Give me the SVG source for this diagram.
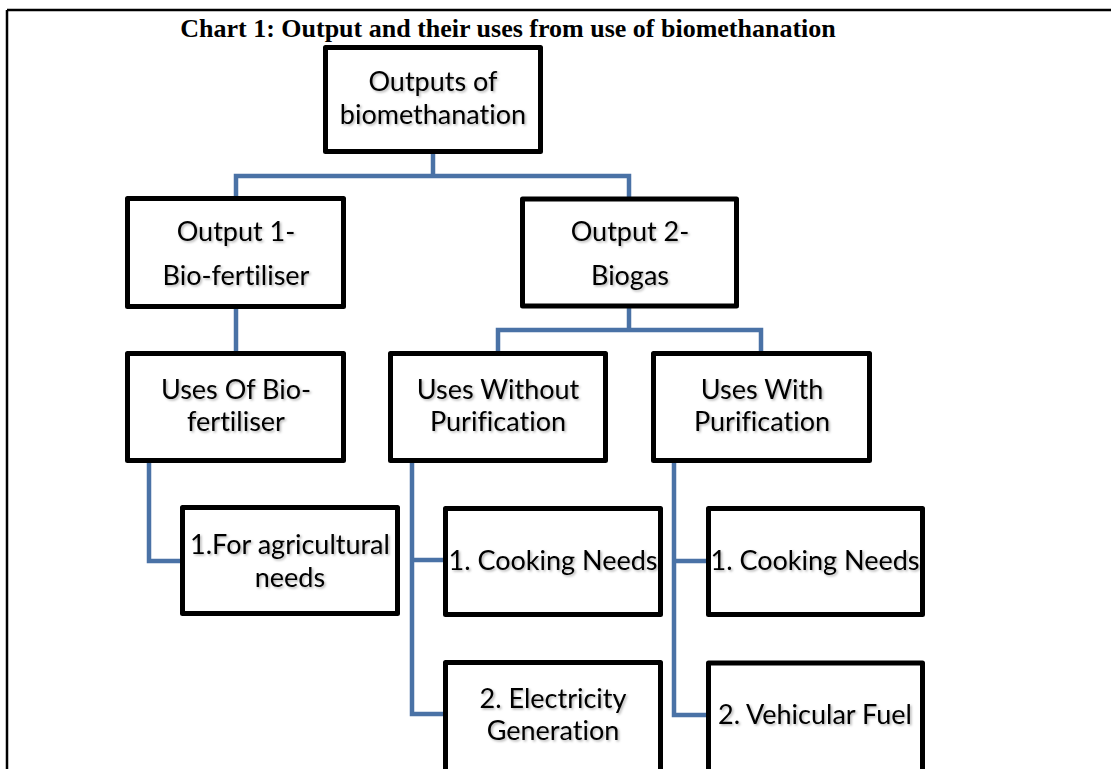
<svg xmlns="http://www.w3.org/2000/svg" width="1111" height="769" viewBox="0 0 1111 769">
<defs>
<style>
.box{fill:#fff;stroke:#000;stroke-width:5;stroke-linejoin:round}
.lbl{font-family:Lato,"Liberation Sans",sans-serif;font-size:27px;fill:#000;text-anchor:middle;filter:url(#sh);font-variant-ligatures:none;font-feature-settings:"liga" 0}
.conn{fill:none;stroke:#4A72A6;stroke-width:4.5}
.title{font-family:"Liberation Serif","Times New Roman",serif;font-weight:bold;font-size:26px;fill:#000;text-anchor:middle}
</style>
<filter id="sh" x="-10%" y="-30%" width="130%" height="170%">
<feDropShadow dx="1.5" dy="1.5" stdDeviation="0.8" flood-color="#000" flood-opacity="0.3"/>
</filter>
</defs>
<rect width="1111" height="769" fill="#fff"/>
<g id="frame" fill="none" stroke="#000" stroke-width="2.5">
<path d="M7,10 H1111 M7,10 V769"/>
</g>
<text class="title" x="508" y="37">Chart 1: Output and their uses from use of biomethanation</text>
<g id="connectors">
<path class="conn" d="M433,152 V176"/>
<path class="conn" d="M236,198 V176 H629 V198"/>
<path class="conn" d="M236,307 V353"/>
<path class="conn" d="M629,306 V330"/>
<path class="conn" d="M498,353 V330 H761 V353"/>
<path class="conn" d="M149,461 V561 H182"/>
<path class="conn" d="M412,461 V714 H445"/>
<path class="conn" d="M412,560 H445"/>
<path class="conn" d="M674,461 V715 H708"/>
<path class="conn" d="M674,561 H708"/>
</g>
<g id="root">
<rect class="box" x="325.5" y="47.5" width="215" height="104"/>
<text class="lbl" x="433" y="91">Outputs of</text>
<text class="lbl" x="433" y="124">biomethanation</text>
</g>
<g id="output1">
<rect class="box" x="127.5" y="198.5" width="216" height="108"/>
<text class="lbl" x="236" y="241">Output 1-</text>
<text class="lbl" x="236" y="285">Bio-fertiliser</text>
</g>
<g id="output2">
<rect class="box" x="522.5" y="199" width="214" height="107"/>
<text class="lbl" x="630" y="241">Output 2-</text>
<text class="lbl" x="630" y="285">Biogas</text>
</g>
<g id="uses-biofertiliser">
<rect class="box" x="127.5" y="353.5" width="216" height="107"/>
<text class="lbl" x="236" y="399">Uses Of Bio-</text>
<text class="lbl" x="236" y="431">fertiliser</text>
</g>
<g id="uses-without">
<rect class="box" x="390.5" y="353.5" width="215" height="107"/>
<text class="lbl" x="498" y="399">Uses Without</text>
<text class="lbl" x="498" y="431">Purification</text>
</g>
<g id="uses-with">
<rect class="box" x="653.5" y="353.5" width="216" height="107"/>
<text class="lbl" x="762" y="399">Uses With</text>
<text class="lbl" x="762" y="431">Purification</text>
</g>
<g id="agri">
<rect class="box" x="182.5" y="507.5" width="215" height="106"/>
<text class="lbl" x="290" y="554">1.For agricultural</text>
<text class="lbl" x="290" y="587">needs</text>
</g>
<g id="cooking1">
<rect class="box" x="445.5" y="508.5" width="215" height="106"/>
<text class="lbl" x="553" y="570">1. Cooking Needs</text>
</g>
<g id="electricity">
<rect class="box" x="445.5" y="662.5" width="215" height="112"/>
<text class="lbl" x="553" y="708">2. Electricity</text>
<text class="lbl" x="553" y="740">Generation</text>
</g>
<g id="cooking2">
<rect class="box" x="708.5" y="508.5" width="214" height="106"/>
<text class="lbl" x="815" y="570">1. Cooking Needs</text>
</g>
<g id="vehicular">
<rect class="box" x="708.5" y="663" width="214" height="112"/>
<text class="lbl" x="815" y="724">2. Vehicular Fuel</text>
</g>
</svg>
